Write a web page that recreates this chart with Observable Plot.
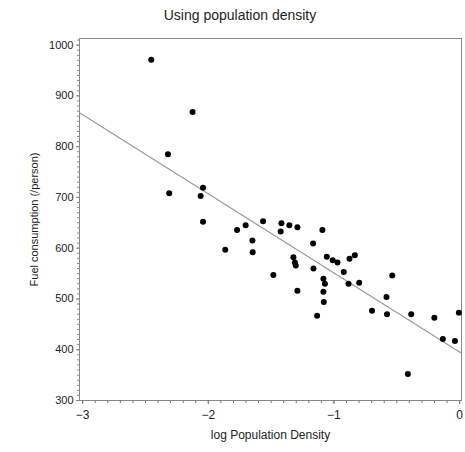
<!DOCTYPE html>
<html>
<head>
<meta charset="utf-8">
<script src="https://cdn.jsdelivr.net/npm/d3@7"></script>
<script src="https://cdn.jsdelivr.net/npm/@observablehq/plot@0.6"></script>
<style>
  body { margin: 0; background: #fff; font-family: "Liberation Sans", Arial, sans-serif; }
  #title { height: 28px; line-height: 30px; font-size: 14px; color: #222; text-align: center; padding-left: 15px; width: 450px; }
</style>
</head>
<body>
<div id="title">Using population density</div>
<div id="chart"></div>
<script>
const titleText = "Using population density";
const xLabel = "log Population Density";
const yLabel = "Fuel consumption (/person)";

// log population density (x) and fuel consumption per person (y)
const logDensity = [
  -2.454, -2.125, -2.321, -2.042, -2.061, -2.311, -2.042, -1.771, -1.703, -1.564,
  -1.418, -1.424, -1.355, -1.291, -1.649, -1.647, -1.865, -1.482, -1.323, -1.311,
  -1.304, -1.291, -1.092, -1.166, -1.163, -1.057, -1.010, -0.972, -0.876, -0.834,
  -0.922, -0.884, -0.799, -1.084, -1.072, -1.084, -1.081, -1.134, -0.536, -0.582,
  -0.697, -0.578, -0.385, -0.201, -0.006, -0.133, -0.037, -0.412
];
const fuel = [
  971, 868, 785, 719, 703, 708, 652, 636, 645, 653,
  649, 633, 645, 641, 615, 592, 597, 547, 582, 572,
  566, 516, 636, 609, 560, 583, 576, 572, 579, 586,
  553, 530, 532, 540, 530, 514, 494, 467, 546, 504,
  477, 470, 470, 463, 473, 421, 417, 352
];

const xDomain = [-3.025, 0.015];
const yDomain = [300, 1013];
const xMajorTicks = [-3, -2, -1, 0];
const xTickLabels = ["\u22123", "\u22122", "\u22121", "0"];
const xMinorTicks = d3.range(-30, 1).map(d => d / 10);
const yMajorTicks = [300, 400, 500, 600, 700, 800, 900, 1000];
const yMinorTicks = d3.range(300, 1011, 10);

const points = logDensity.map((x, i) => ({x, y: fuel[i]}));

// ordinary least squares fit
const mx = d3.mean(logDensity), my = d3.mean(fuel);
const slope = d3.sum(points, p => (p.x - mx) * (p.y - my)) / d3.sum(points, p => (p.x - mx) ** 2);
const intercept = my - slope * mx;
const fitLine = xDomain.map(x => ({x, y: intercept + slope * x}));

const chart = Plot.plot({
  width: 465,
  height: 424,
  marginLeft: 79,
  marginRight: 4,
  marginTop: 10,
  marginBottom: 52,
  style: {fontFamily: "'Liberation Sans', Arial, sans-serif", fontSize: "11px", color: "#222", background: "#fff"},
  x: {domain: xDomain},
  y: {domain: yDomain},
  marks: [
    Plot.frame({stroke: "#888"}),
    Plot.axisX({ticks: xMinorTicks, tickSize: 3, text: null, stroke: "#777", label: null}),
    Plot.axisX({ticks: xMajorTicks, tickSize: 4, tickPadding: 6, stroke: "#777", fill: "#222", fontSize: 12,
      tickFormat: d => xTickLabels[xMajorTicks.indexOf(d)],
      label: xLabel, labelAnchor: "center", labelArrow: "none", labelOffset: 38}),
    Plot.axisY({ticks: yMinorTicks, tickSize: 2, text: null, stroke: "#888", label: null}),
    Plot.axisY({ticks: yMajorTicks, tickSize: 3, tickPadding: 3, stroke: "#888", fill: "#222", fontSize: 11,
      tickFormat: d => String(d),
      label: yLabel, labelAnchor: "center", labelArrow: "none", labelOffset: 49}),
    Plot.line(fitLine, {x: "x", y: "y", stroke: "#999", strokeWidth: 1.2}),
    Plot.dot(points, {x: "x", y: "y", r: 3, fill: "#000", stroke: "none"})
  ]
});
document.getElementById("chart").appendChild(chart);
</script>
</body>
</html>
